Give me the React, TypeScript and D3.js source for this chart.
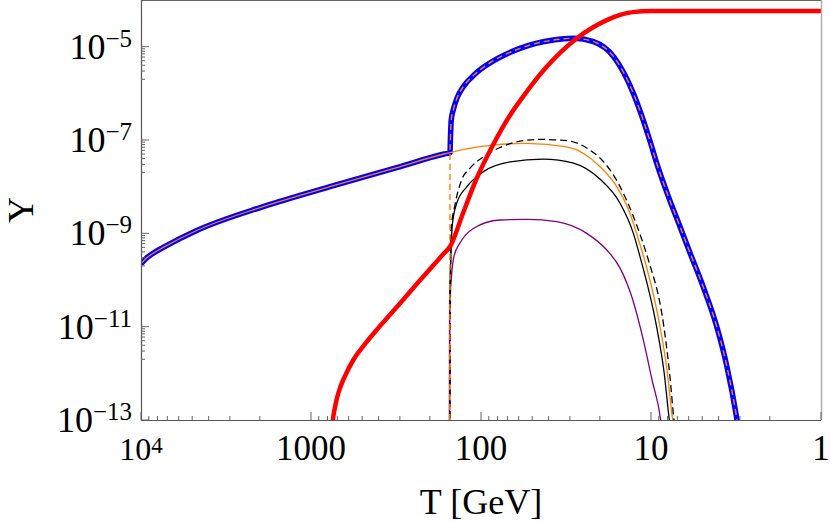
import * as d3 from 'd3';

// Temperature (GeV) and yield values, one pair of arrays per curve
const blueT = [10000, 9346, 8615, 7396, 4700, 1909, 773, 313, 165.1, 152.2, 151.4, 149.6, 145.6, 138.4, 127, 108.4, 92.5, 59, 37.5, 28.6, 21.8, 16.6, 12.7, 11.1, 10.14, 9.26, 8.08, 6.75, 5.9, 4.94, 4.11, 3.59, 3.13, 3.04];
const blueY = [2.21e-10, 2.9e-10, 3.62e-10, 5.0e-10, 1.15e-9, 3.74e-9, 1.0e-8, 2.56e-8, 5.01e-8, 5.35e-8, 1e-7, 2.7e-7, 4.4e-7, 7.9e-7, 1.39e-6, 2.6e-6, 4.05e-6, 9.2e-6, 1.39e-5, 1.51e-5, 1.28e-5, 6.1e-6, 1e-6, 2.64e-7, 9.5e-8, 3.2e-8, 7.66e-9, 1.39e-9, 3.85e-10, 7.26e-11, 1.02e-11, 1.49e-12, 1.09e-13, 5.5e-14];

const redT = [1, 10.1, 12.8, 15.2, 18.2, 21.9, 27.4, 41.1, 57.4, 67.5, 85, 107, 127.6, 152, 165.1, 228.5, 299, 411, 481, 564, 622.6, 675, 703, 727.6, 743, 750];
const redY = [5.8e-5, 5.8e-5, 5.5e-5, 4.8e-5, 3.7e-5, 2.6e-5, 1.5e-5, 3.7e-6, 7.9e-7, 3.4e-7, 7.8e-8, 1.39e-8, 2.7e-9, 5.22e-10, 3.73e-10, 9.86e-11, 3.16e-11, 8.5e-12, 4.26e-12, 1.93e-12, 9.7e-13, 4.85e-13, 2.96e-13, 1.64e-13, 1e-13, 6e-14];

const orangeT = [10000, 9346, 8615, 7396, 4700, 1909, 773, 313, 165.1, 152.2, 127, 84.7, 53.8, 31.3, 20, 15.9, 13.3, 11.88, 10.7, 8.85, 8.05, 7.45, 7.23];
const orangeY = [2.21e-10, 2.9e-10, 3.62e-10, 5.0e-10, 1.15e-9, 3.74e-9, 1.0e-8, 2.56e-8, 5.01e-8, 5.35e-8, 6.3e-8, 7.8e-8, 8.5e-8, 7.1e-8, 2.7e-8, 1e-8, 2.7e-9, 7.57e-10, 2.1e-10, 1e-11, 1.18e-12, 1e-13, 5.5e-14];

const orangeDashT = [152.4, 152.2, 151.4, 149.6, 145.6, 138.4, 127, 108.4, 92.5, 59, 37.5, 28.6, 21.8, 16.6, 12.7, 11.1, 10.14, 9.26, 8.08, 6.75, 5.9, 4.94, 4.11, 3.59, 3.13, 3.04];
const orangeDashY = [3.7e-14, 5.35e-8, 1e-7, 2.7e-7, 4.4e-7, 7.9e-7, 1.39e-6, 2.6e-6, 4.05e-6, 9.2e-6, 1.39e-5, 1.51e-5, 1.28e-5, 6.1e-6, 1e-6, 2.64e-7, 9.5e-8, 3.2e-8, 7.66e-9, 1.39e-9, 3.85e-10, 7.26e-11, 1.02e-11, 1.49e-12, 1.09e-13, 5.5e-14];

const blackT = [153.2, 153, 151, 147.5, 139, 121, 96.8, 67.5, 43, 28.6, 20, 15.2, 12.7, 11.5, 9.27, 8.38, 7.8, 7.62];
const blackY = [3.7e-14, 3.7e-11, 2.1e-10, 1.5e-9, 4.4e-9, 1e-8, 2.1e-8, 3.4e-8, 3.9e-8, 3.2e-8, 1.46e-8, 4.4e-9, 1e-9, 2.8e-10, 1e-11, 1.07e-12, 1e-13, 5.5e-14];

const blackDashT = [152.2, 151.3, 150, 142.3, 130, 116, 97.3, 77.3, 61.7, 45, 31.3, 22.9, 18.7, 15.2, 12.7, 11.3, 10.4, 8.4, 7.75, 7.32, 7.15];
const blackDashY = [3.7e-14, 3.7e-11, 1.18e-9, 4.05e-9, 1.39e-8, 2.5e-8, 4.3e-8, 6.9e-8, 9.1e-8, 1.03e-7, 9.7e-8, 6.1e-8, 3.2e-8, 1e-8, 2.3e-9, 7.2e-10, 2.8e-10, 1e-11, 9.1e-13, 1e-13, 5.5e-14];

const purpleT = [153.2, 153, 152, 149, 144, 133, 111, 77.3, 53.8, 35.9, 23.9, 18.2, 15.2, 12.9, 11.1, 9.86, 8.77, 8.6];
const purpleY = [3.7e-14, 1.4e-11, 3.7e-11, 1.28e-10, 3.3e-10, 6.2e-10, 1.27e-9, 1.93e-9, 2.0e-9, 1.78e-9, 1e-9, 4.4e-10, 1.8e-10, 4.1e-11, 5.2e-12, 7.2e-13, 1e-13, 5.5e-14];

// Axis ticks
const xMajor = [10000, 1000, 100, 10, 1];
const xLabels = ['', '1000', '100', '10', '1'];
const yMajor = [1e-5, 1e-7, 1e-9, 1e-11, 1e-13];
const yExponents = ['−5', '−7', '−9', '−11', '−13'];
const minorFactors = [2, 3, 4, 5, 6, 7, 8, 9];

const W = 830;
const H = 521;
const plot = { left: 141, right: 821, top: 0, bottom: 420 };
const serif = '"Liberation Serif", "Times New Roman", serif';

export default function App() {
  const x = d3.scaleLog().domain([1e4, 1]).range([plot.left, plot.right]);
  const y = d3.scaleLog().domain([1e-13, 1e-4]).range([plot.bottom, plot.top]);

  const line = d3.line<[number, number]>()
    .x(d => x(d[0]))
    .y(d => y(d[1]))
    .curve(d3.curveMonotoneX);

  const path = (ts: number[], ys: number[]) =>
    line(ts.map((t, i) => [t, ys[i]] as [number, number])) || '';

  const xMinor: number[] = [];
  [1000, 100, 10, 1].forEach(base => minorFactors.forEach(f => xMinor.push(base * f)));
  const yMinor: number[] = [];
  yMajor.slice(0, 4).forEach(v => minorFactors.forEach(f => yMinor.push(v / 10 * f)));

  return (
    <svg width={W} height={H} style={{ position: 'absolute', left: 0, top: 0, background: '#fff' }}>
      <defs>
        <clipPath id="plotClip">
          <rect x={plot.left} y={plot.top} width={plot.right - plot.left} height={plot.bottom - plot.top} />
        </clipPath>
      </defs>

      {/* curves */}
      <g clipPath="url(#plotClip)" fill="none" strokeLinejoin="round">
        <path d={path(blueT, blueY)} stroke="#0000ff" strokeWidth={5.5} />
        <path d={path(orangeT, orangeY)} stroke="#ff8000" strokeWidth={1.3} />
        <path d={path(blackT, blackY)} stroke="#000" strokeWidth={1.3} />
        <path d={path(purpleT, purpleY)} stroke="#800080" strokeWidth={1.3} />
        <path d={path(blackDashT, blackDashY)} stroke="#000" strokeWidth={1.3} strokeDasharray="7,4" />
        <path d={path(orangeDashT, orangeDashY)} stroke="#ff8000" strokeWidth={1.4} strokeDasharray="6,4" />
        <path d={path(redT, redY)} stroke="#ff0000" strokeWidth={4.5} />
      </g>

      {/* frame */}
      <line x1={plot.left} x2={plot.right} y1={0.5} y2={0.5} stroke="#666" strokeWidth={1.2} />
      <line x1={plot.right + 0.5} x2={plot.right + 0.5} y1={0} y2={plot.bottom} stroke="#b0b0b0" strokeWidth={1.5} />
      <line x1={plot.left + 0.5} x2={plot.left + 0.5} y1={0} y2={plot.bottom + 1} stroke="#555" strokeWidth={1.2} />
      <line x1={plot.left} x2={plot.right} y1={plot.bottom + 0.5} y2={plot.bottom + 0.5} stroke="#555" strokeWidth={1.2} />

      {/* ticks */}
      <g stroke="#666" strokeWidth={1}>
        {xMajor.map(v => (
          <line key={'xM' + v} x1={x(v)} x2={x(v)} y1={plot.bottom} y2={plot.bottom - 8} />
        ))}
        {xMinor.map(v => (
          <line key={'xm' + v} x1={x(v)} x2={x(v)} y1={plot.bottom} y2={plot.bottom - 4} />
        ))}
        {yMajor.map(v => (
          <line key={'yM' + v} x1={plot.left} x2={plot.left + 8} y1={y(v)} y2={y(v)} />
        ))}
        {yMinor.map(v => (
          <line key={'ym' + v} x1={plot.left} x2={plot.left + 4} y1={y(v)} y2={y(v)} />
        ))}
      </g>

      {/* tick labels */}
      <g fontFamily={serif} fill="#000">
        <text x={x(1e4)} y={460} textAnchor="middle" fontSize={32}>
          10<tspan fontSize={23} dy={-7}>4</tspan>
        </text>
        {xMajor.slice(1).map((v, i) => (
          <text key={'xl' + v} x={x(v)} y={460} textAnchor="middle" fontSize={35}>
            {xLabels[i + 1]}
          </text>
        ))}
        {yMajor.map((v, i) => (
          <text key={'yl' + v} x={132} y={y(v) + 12} textAnchor="end" fontSize={36}>
            10<tspan fontSize={25} dy={-12}>{yExponents[i]}</tspan>
          </text>
        ))}
        <text x={(plot.left + plot.right) / 2} y={514} textAnchor="middle" fontSize={36}>
          T [GeV]
        </text>
        <text transform={`translate(33, ${(plot.top + plot.bottom) / 2}) rotate(-90)`} textAnchor="middle" fontSize={36}>
          Y
        </text>
      </g>
    </svg>
  );
}
